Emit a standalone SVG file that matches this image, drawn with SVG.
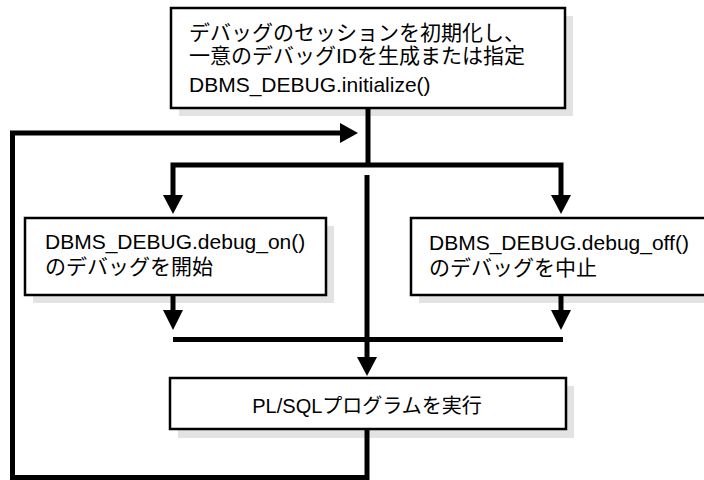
<svg xmlns="http://www.w3.org/2000/svg" width="704" height="480" viewBox="0 0 704 480">
<style>
.box{fill:#fff;stroke:#000;stroke-width:2.5}
.shadow{fill:#e3e3e3}
.t{font-family:"Liberation Sans","Noto Sans CJK JP",sans-serif;font-size:21px;fill:#000}
.c{fill:none;stroke:#000;stroke-width:5}
.ah{fill:#000}
</style>
<rect width="704" height="480" fill="#fff"/>
<g id="init">
<rect class="shadow" x="179" y="16" width="394" height="100"/>
<rect class="box" x="171" y="8" width="394" height="100"/>
<text class="t" x="189" y="40">デバッグのセッションを初期化し、</text>
<text class="t" x="189" y="63">一意のデバッグIDを生成または指定</text>
<text class="t" x="189" y="92">DBMS_DEBUG.initialize()</text>
</g>
<g id="debug_on">
<rect class="shadow" x="33" y="226" width="301" height="77"/>
<rect class="box" x="25" y="218" width="301" height="77"/>
<text class="t" x="45" y="249">DBMS_DEBUG.debug_on()</text>
<text class="t" x="45" y="274">のデバッグを開始</text>
</g>
<g id="debug_off">
<rect class="shadow" x="419" y="226" width="301" height="77"/>
<rect class="box" x="411" y="218" width="301" height="77"/>
<text class="t" x="429" y="250">DBMS_DEBUG.debug_off()</text>
<text class="t" x="429" y="275">のデバッグを中止</text>
</g>
<g id="run">
<rect class="shadow" x="178" y="386" width="396" height="52"/>
<rect class="box" x="170" y="378" width="396" height="51"/>
<text class="t" x="367" y="413" text-anchor="middle" style="font-size:20px">PL/SQLプログラムを実行</text>
</g>
<g id="connectors">
<path class="c" d="M368,109 V165"/>
<path class="c" d="M173,197 V165 H561 V197"/>
<polygon class="ah" points="163,195 183,195 173,214"/>
<polygon class="ah" points="551,195 571,195 561,214"/>
<path class="c" d="M173,296 V312"/>
<path class="c" d="M561,296 V312"/>
<polygon class="ah" points="163,310 183,310 173,330"/>
<polygon class="ah" points="551,310 571,310 561,330"/>
<path class="c" d="M173,339.5 H563"/>
<path class="c" d="M367,175 V359"/>
<polygon class="ah" points="357,357 377,357 367,376"/>
<path class="c" d="M367,430 V477.5 H12.5 V133 H342"/>
<polygon class="ah" points="340,123 340,143 358,133"/>
</g>
</svg>
